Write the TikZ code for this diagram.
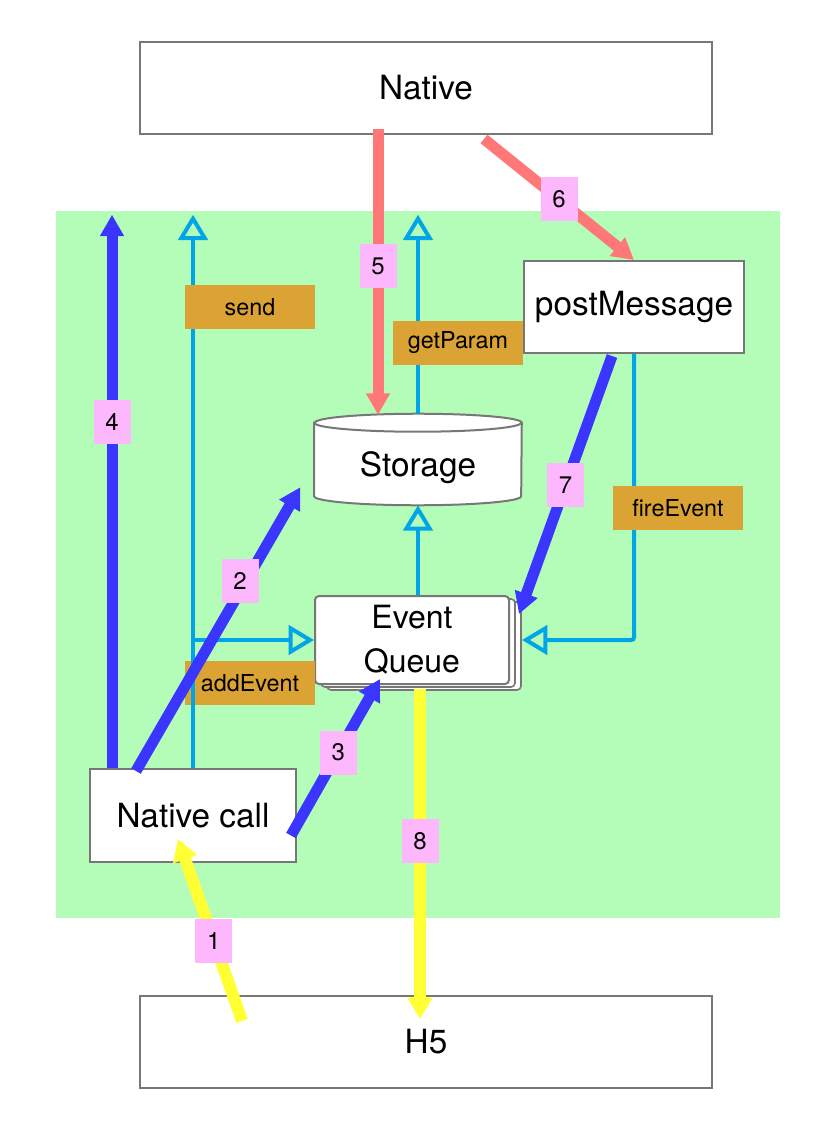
\documentclass[tikz,border=0pt]{standalone}
\usepackage{fontspec}
\setmainfont{TeX Gyre Heros}
\usetikzlibrary{arrows.meta}
\usetikzlibrary{calc}
\usetikzlibrary{shadows}
\definecolor{vertfond}{HTML}{B3FDB9}
\definecolor{rougefleche}{HTML}{FF7777}
\definecolor{bleufleche}{HTML}{3A35FF}
\definecolor{jaunefleche}{HTML}{FFFF33}
\definecolor{rosenumero}{HTML}{FDB7FC}
\definecolor{orangeetiq}{HTML}{DBA333}
\definecolor{cyanlien}{HTML}{00A5E8}
\definecolor{grisbord}{HTML}{777777}

\begin{document}
\begin{tikzpicture}[x=0.75pt,y=-0.75pt]
% définition des paramètres
\tikzstyle boite=[draw=grisbord,line width=1.5pt,fill=white,inner sep=0pt,font=\fontsize{25}{33}\selectfont]
\tikzstyle etiquette=[fill=orangeetiq,text=black,inner sep=0pt,minimum width=97.5pt,minimum height=33pt,font=\fontsize{17.5}{21}\selectfont]
\tikzstyle numero=[fill=rosenumero,text=black,inner sep=0pt,minimum width=27.75pt,minimum height=33pt,font=\fontsize{18}{21}\selectfont]
\tikzstyle flecherouge=[color=rougefleche,line width=8.25pt,-{Triangle[length=16pt,width=17pt]}]
\tikzstyle flechebleue=[color=bleufleche,line width=8.25pt,-{Triangle[length=16pt,width=17pt]}]
\tikzstyle flechejaune=[color=jaunefleche,line width=9pt,-{Triangle[length=16pt,width=18pt]}]
\tikzstyle lienbleu=[color=cyanlien,line width=3pt,rounded corners=2pt,-{Triangle[open,length=19pt,width=22pt]}]
\newcommand{\rayx}{77.6pt} % rayons de l'ellipse du cylindre
\newcommand{\rayy}{6.75pt}

\useasboundingbox (0,0) rectangle (836,1130);
% la zone verte
\node[fill=vertfond,inner sep=0pt,minimum width=543pt,minimum height=530.25pt] (zone) at (418,564.5) {};

% les boites
\node[boite,minimum width=429pt,minimum height=69pt] (native) at (426,88) {Native};
\node[boite,minimum width=429pt,minimum height=69pt] (h5) at (426,1042) {H5};
\node[boite,minimum width=165pt,minimum height=69pt] (post) at (634,307) {postMessage};
\node[boite,minimum width=154.5pt,minimum height=69.75pt] (call) at (193,815.5) {Native call};
\node[boite,rounded corners=3pt,align=center,minimum width=145.5pt,minimum height=66pt,
  double copy shadow={shadow xshift=4.5pt,shadow yshift=-2.25pt,draw=grisbord,line width=1.2pt,fill=white},
  font=\fontsize{24}{33}\selectfont] (queue) at (412,640) {Event\\Queue};

% le cylindre
\node[inner sep=0pt,minimum width=155.25pt,minimum height=61.5pt] (storage) at (418,464) {};
\draw[draw=grisbord,line width=1.5pt,fill=white] (storage.north west) -- ($(storage.south west)+(0,-9)$)
  arc[start angle=180,end angle=360,x radius=\rayx,y radius=\rayy] -- (storage.north east)
  arc[start angle=0,end angle=180,x radius=\rayx,y radius=\rayy] -- cycle;
\draw[draw=grisbord,line width=1.5pt] (storage.north west) arc[start angle=180,end angle=360,x radius=\rayx,y radius=\rayy];
\node[font=\fontsize{25}{33}\selectfont] (storagetxt) at ($(storage.center)+(0,4)$) {Storage};

% les liens
\node[etiquette] (ladd) at (250,683) {addEvent};
\draw[lienbleu] (call.north) -- ($(call.north |- zone.north)+(0,4)$);
\draw[lienbleu] ($(storage.north)+(0,-9)$) -- ($(storage.north |- zone.north)+(0,4)$);
\draw[lienbleu] (queue.north -| storage.north) -- (storage.south);
\draw[lienbleu] (call.north |- queue.west) -- (queue.west);
\draw[lienbleu] (post.south) |- ($(queue.east)+(12,0)$);
\node[etiquette] (lsend) at (250,307) {send};
\node[etiquette] (lget) at (458,343) {getParam};
\node[etiquette] (lfire) at (678,508) {fireEvent};

% les flèches
\draw[flecherouge] ($(native.south)+(-48,-6)$) -- node[numero,pos=0.48] (n5) {5} ($(storage.north)+(-40,-8)$);
\draw[flecherouge] ($(native.south)+(58,4)$) -- node[numero,pos=0.5] (n6) {6} (post.north);
\draw[flechebleue] ($(call.north west)+(23,0)$) -- node[numero,pos=0.625] (n4) {4} ($(call.north west |- zone.north)+(23,4)$);
\draw[flechebleue] ($(call.north west)+(47,3)$) -- node[numero,pos=0.67,xshift=-4.5pt] (n2) {2} ($(storage.south west)+(-14,-18)$);
\draw[flechebleue] ($(call.east)+(-6,20)$) -- node[numero,pos=0.53] (n3) {3} ($(queue.south)+(-32,-6)$);
\draw[flechebleue] ($(post.south)+(-22,2)$) -- node[numero,pos=0.5] (n7) {7} ($(queue.north east)+(9,19)$);
\draw[flechejaune] ($(queue.south)+(8,4)$) -- node[numero,pos=0.46] (n8) {8} ($(h5.north)+(-6,24)$);
\draw[flechejaune] ($(h5.north west)+(103,26)$) -- node[numero,pos=0.44] (n1) {1} ($(call.south)+(-15,-24)$);
\end{tikzpicture}
\end{document}
